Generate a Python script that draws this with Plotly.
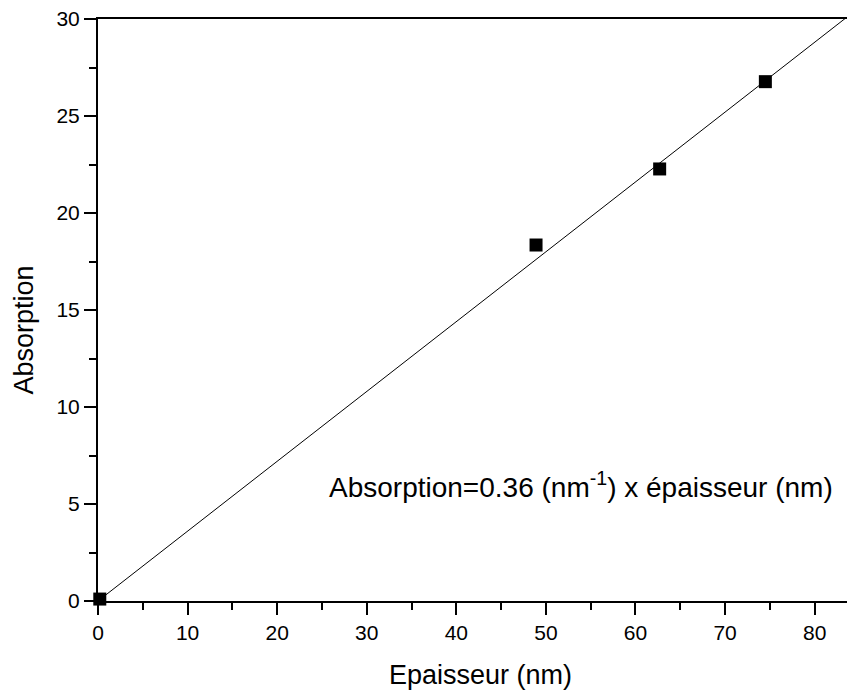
import plotly.graph_objects as go

thickness_nm = [0.2, 48.9, 62.7, 74.5]
absorption = [0.1, 18.35, 22.27, 26.77]
slope = 0.36
fit_x = [0, 86]
fit_y = [slope * v for v in fit_x]

FONT = "Liberation Sans, Arial, sans-serif"

fig = go.Figure()
fig.add_trace(go.Scatter(x=fit_x, y=fit_y, mode="lines",
                         line=dict(color="black", width=1), showlegend=False))
fig.add_trace(go.Scatter(x=thickness_nm, y=absorption, mode="markers",
                         marker=dict(symbol="square", size=13, color="black"),
                         showlegend=False, cliponaxis=False))

fig.add_annotation(x=0.632, y=0.2, xref="paper", yref="paper",
                   text="Absorption=0.36 (nm<sup>-1</sup>) x épaisseur (nm)",
                   showarrow=False, font=dict(family=FONT, size=28, color="black"),
                   xanchor="center", yanchor="middle")

# y-axis title placed as rotated text to match the reference position
fig.add_annotation(x=-0.097, y=0.466, xref="paper", yref="paper",
                   text="Absorption", textangle=-90, showarrow=False,
                   font=dict(family=FONT, size=27, color="black"),
                   xanchor="center", yanchor="middle")

axis_common = dict(showgrid=False, zeroline=False, showline=True, linecolor="black",
                   linewidth=2, ticks="outside", ticklen=12, tickwidth=2, automargin=False,
                   ticklabeloverflow="allow",
                   tickcolor="black", tickfont=dict(family=FONT, size=21, color="black"))

fig.update_xaxes(range=[0, 85.4], dtick=10, tick0=0, mirror=True,
                 minor=dict(dtick=5, ticks="outside", ticklen=7, tickwidth=2, tickcolor="black"),
                 title=dict(text="Epaisseur (nm)", font=dict(family=FONT, size=27, color="black"), standoff=22),
                 **axis_common)
fig.update_yaxes(range=[0, 30], dtick=5, tick0=0,
                 minor=dict(dtick=2.5, ticks="outside", ticklen=7, tickwidth=2, tickcolor="black"),
                 **axis_common)

fig.update_layout(width=855, height=693, plot_bgcolor="white", paper_bgcolor="white",
                  margin=dict(l=90, r=0, t=11, b=100))

fig.write_html("out.html")
